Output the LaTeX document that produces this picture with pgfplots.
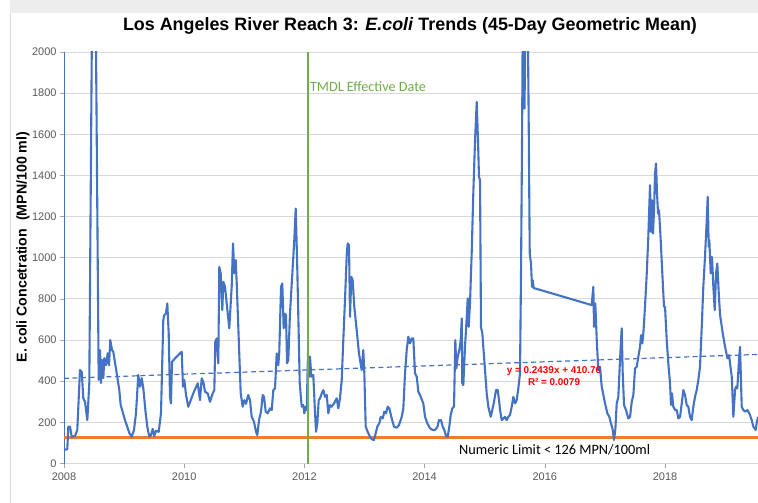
\documentclass[border=0pt]{standalone}
\usepackage{fontspec}
\setmainfont{Liberation Sans}
\newfontfamily\calibri{Carlito}
\usepackage{pgfplots}
\usepackage{pgfplotstable}
\pgfplotsset{compat=1.18}
\definecolor{exblue}{HTML}{4472C4}
\definecolor{exorange}{HTML}{ED7D31}
\definecolor{exgreen}{HTML}{70AD47}
\definecolor{gridc}{HTML}{D9D9D9}
\definecolor{ticklab}{HTML}{595959}

\pgfplotstableread{
x y
2008.000 66
2008.055 70
2008.072 179
2008.100 179
2008.128 130
2008.183 134
2008.221 163
2008.266 454
2008.295 446
2008.321 317
2008.349 300
2008.388 211
2008.421 390
2008.496 3350
2008.577 406
2008.599 551
2008.616 391
2008.632 503
2008.654 415
2008.671 512
2008.699 478
2008.727 536
2008.749 478
2008.770 600
2008.799 551
2008.820 543
2008.877 439
2008.920 357
2008.943 284
2009.015 211
2009.087 148
2009.126 130
2009.165 163
2009.198 245
2009.236 430
2009.265 373
2009.293 415
2009.319 367
2009.359 245
2009.386 179
2009.419 130
2009.448 138
2009.476 168
2009.502 134
2009.531 159
2009.576 154
2009.614 245
2009.652 697
2009.669 721
2009.697 729
2009.719 778
2009.742 632
2009.764 324
2009.780 292
2009.797 494
2009.847 511
2009.958 543
2009.980 373
2010.002 406
2010.030 333
2010.068 276
2010.151 341
2010.225 390
2010.263 308
2010.291 414
2010.318 397
2010.346 349
2010.391 341
2010.429 300
2010.474 341
2010.501 357
2010.517 592
2010.541 608
2010.567 487
2010.584 956
2010.607 924
2010.634 746
2010.651 883
2010.679 859
2010.707 778
2010.750 657
2010.790 859
2010.812 1070
2010.834 924
2010.857 988
2010.874 875
2010.900 664
2010.940 341
2010.973 276
2011.000 308
2011.028 290
2011.066 333
2011.095 308
2011.123 227
2011.161 203
2011.195 154
2011.216 138
2011.245 211
2011.278 252
2011.306 333
2011.328 324
2011.356 252
2011.389 244
2011.428 268
2011.456 260
2011.483 357
2011.511 365
2011.539 535
2011.566 478
2011.582 543
2011.611 859
2011.632 875
2011.655 657
2011.672 729
2011.694 721
2011.711 487
2011.732 503
2011.760 729
2011.799 924
2011.832 1086
2011.855 1239
2011.877 1004
2011.899 713
2011.922 390
2011.955 276
2011.982 284
2011.998 244
2012.022 276
2012.038 260
2012.060 535
2012.082 422
2012.093 519
2012.115 422
2012.148 430
2012.172 276
2012.193 154
2012.215 195
2012.238 308
2012.260 317
2012.288 341
2012.315 357
2012.343 324
2012.371 333
2012.398 244
2012.426 284
2012.454 276
2012.493 292
2012.537 317
2012.564 268
2012.592 317
2012.621 406
2012.647 600
2012.675 794
2012.704 1013
2012.720 1070
2012.742 1061
2012.759 713
2012.780 907
2012.803 891
2012.830 762
2012.870 648
2012.908 535
2012.953 454
2012.980 551
2012.997 438
2013.020 179
2013.053 154
2013.092 130
2013.120 118
2013.158 114
2013.186 147
2013.213 179
2013.246 195
2013.270 227
2013.303 219
2013.330 252
2013.358 244
2013.386 276
2013.413 268
2013.453 219
2013.491 179
2013.536 174
2013.574 187
2013.619 227
2013.646 268
2013.674 438
2013.702 551
2013.729 616
2013.757 584
2013.785 608
2013.812 608
2013.840 438
2013.869 422
2013.895 349
2013.923 333
2013.978 292
2014.007 227
2014.045 195
2014.090 171
2014.135 163
2014.173 163
2014.211 176
2014.240 211
2014.273 211
2014.301 179
2014.328 163
2014.356 134
2014.384 130
2014.411 179
2014.434 236
2014.461 268
2014.489 276
2014.511 600
2014.528 462
2014.551 519
2014.578 551
2014.601 600
2014.618 705
2014.627 390
2014.644 381
2014.672 567
2014.701 713
2014.717 802
2014.734 664
2014.755 778
2014.783 1021
2014.810 1312
2014.839 1571
2014.867 1757
2014.888 1571
2014.905 1393
2014.922 1377
2014.938 664
2014.960 632
2015.005 454
2015.033 341
2015.060 276
2015.100 227
2015.126 260
2015.155 300
2015.188 357
2015.216 357
2015.238 308
2015.255 260
2015.283 211
2015.310 219
2015.338 227
2015.366 211
2015.393 227
2015.421 236
2015.449 276
2015.476 324
2015.504 292
2015.532 308
2015.559 365
2015.587 438
2015.604 924
2015.621 1571
2015.640 2500
2015.662 1725
2015.690 2500
2015.712 2300
2015.732 1652
2015.749 1021
2015.770 972
2015.787 859
2015.799 891
2015.815 851
2015.837 851
2016.780 770
2016.807 859
2016.819 664
2016.840 778
2016.864 600
2016.890 454
2016.918 470
2016.947 373
2017.002 292
2017.040 244
2017.073 227
2017.101 195
2017.130 163
2017.151 114
2017.173 163
2017.196 292
2017.223 324
2017.251 503
2017.279 657
2017.296 438
2017.318 284
2017.351 260
2017.389 219
2017.418 227
2017.446 300
2017.473 333
2017.501 462
2017.529 470
2017.556 519
2017.584 567
2017.601 624
2017.622 584
2017.639 632
2017.667 762
2017.696 924
2017.722 1102
2017.750 1353
2017.767 1126
2017.784 1280
2017.800 1118
2017.817 1231
2017.834 1410
2017.850 1458
2017.867 1312
2017.884 1215
2017.900 1231
2017.928 1086
2017.955 924
2017.983 762
2018.000 762
2018.028 600
2018.055 487
2018.083 390
2018.100 284
2018.116 341
2018.138 276
2018.166 260
2018.195 260
2018.222 219
2018.250 227
2018.278 292
2018.305 357
2018.333 333
2018.361 284
2018.388 276
2018.416 227
2018.444 211
2018.471 276
2018.499 324
2018.527 357
2018.554 406
2018.582 470
2018.611 664
2018.637 859
2018.665 1004
2018.694 1182
2018.710 1296
2018.727 1053
2018.737 1086
2018.760 924
2018.782 1004
2018.804 859
2018.827 746
2018.849 924
2018.870 972
2018.894 827
2018.916 721
2018.961 632
2018.999 567
2019.038 511
2019.065 527
2019.082 487
2019.110 422
2019.137 227
2019.165 357
2019.181 373
2019.203 365
2019.231 503
2019.248 567
2019.276 276
2019.303 260
2019.336 252
2019.370 260
2019.403 244
2019.442 211
2019.469 179
2019.508 163
2019.524 195
2019.547 227
}\ecoli

\begin{document}
\begin{tikzpicture}
\useasboundingbox (-64bp,-39.5bp) rectangle (694bp,463.5bp);
\fill[black!7] (-54bp,450bp) rectangle (694bp,463.5bp);
\draw[black!15, line width=0.8bp] (-54bp,-39.5bp) -- (-54bp,450bp);
\begin{axis}[
  at={(0,0)}, anchor=south west,
  scale only axis, width=694bp, height=411.5bp,
  xmin=2008, xmax=2019.547, ymin=0, ymax=2000,
  axis x line*=bottom, axis y line*=left,
  x axis line style={draw=gridc, line width=0.8bp},
  y axis line style={draw=exblue, line width=0.8bp},
  xtick={2008,2010,2012,2014,2016,2018},
  xticklabels={2008,2010,2012,2014,2016,2018},
  ytick={0,200,400,600,800,1000,1200,1400,1600,1800,2000},
  yticklabels={0,200,400,600,800,1000,1200,1400,1600,1800,2000},
  ymajorgrids, grid style={draw=gridc, line width=0.8bp},
  tick align=outside, major tick length=4bp,
  major tick style={draw=black!35, line width=0.6bp},
  tick label style={font=\fontsize{11bp}{12bp}\selectfont, text=ticklab},
  xticklabel style={yshift=-2bp},
  every axis plot/.append style={line join=round},
]
\addplot[color=exorange, line width=2.4bp] coordinates {(2008,126) (2019.547,126)};
\addplot[color=exblue, line width=2.1bp] table[x=x,y=y] {\ecoli};
\addplot[color=exblue, line width=1.2bp, dash pattern=on 5bp off 3.5bp] coordinates {(2008,414) (2019.547,530)};
\addplot[color=exgreen, line width=1.6bp] coordinates {(2012.055,0) (2012.055,2000)};
\node[anchor=west, inner sep=0pt, text=exgreen, font=\calibri\fontsize{14.2bp}{16bp}\selectfont] at (axis cs:2012.09,1830) {TMDL Effective Date};
\node[anchor=west, inner sep=0pt, text=black, font=\calibri\fontsize{14.3bp}{16bp}\selectfont] at (axis cs:2014.572,66) {Numeric Limit < 126 MPN/100ml};
\node[inner sep=0pt, text=red, font=\bfseries\fontsize{9.9bp}{11bp}\selectfont] at (axis cs:2016.153,449) {y = 0.2439x + 410.76};
\node[inner sep=0pt, text=red, font=\bfseries\fontsize{9.9bp}{11bp}\selectfont] at (axis cs:2016.153,396) {R² = 0.0079};
\end{axis}
\node[anchor=base, inner sep=0pt, font=\bfseries\fontsize{17.9bp}{20bp}\selectfont] at (346bp,432.5bp) {Los Angeles River Reach 3: \textit{E.coli} Trends (45-Day Geometric Mean)};
\node[rotate=90, inner sep=0pt, font=\bfseries\fontsize{14.2bp}{16bp}\selectfont] at (-41bp,216.5bp) {E. coli Concetration\ \ (MPN/100 ml)};
\end{tikzpicture}
\end{document}
